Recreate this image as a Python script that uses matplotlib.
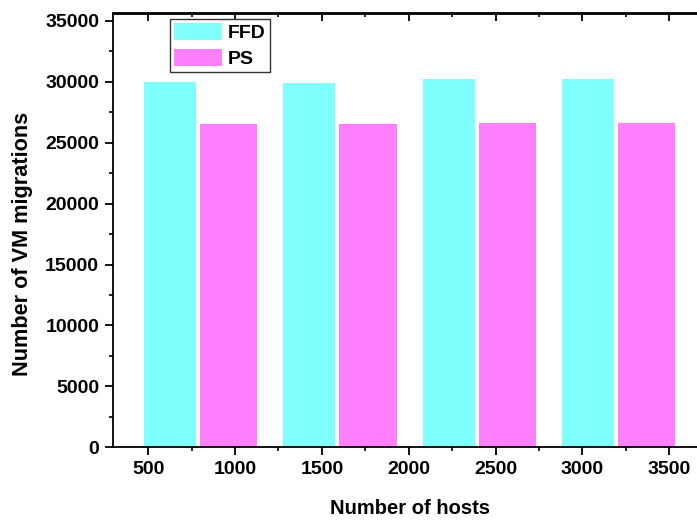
import matplotlib
matplotlib.use("Agg")
import matplotlib.pyplot as plt
from matplotlib.ticker import MultipleLocator
import numpy as np

# data
hosts = [500, 1000, 1500, 2000, 2500, 3000, 3500]   # x tick labels
ffd = [30000, 29900, 30200, 30200]
ps = [26500, 26500, 26600, 26600]
series_names = ["FFD", "PS"]
colors = ["#80FFFF", "#FF80FF"]

plt.rcParams["font.family"] = ["Liberation Sans", "DejaVu Sans"]
plt.rcParams["font.weight"] = "bold"

W, H = 697, 522
fig = plt.figure(figsize=(W / 100, H / 100), dpi=100)
# axes: left spine at x=113px, bottom at y=447px, top at y=13.5px, right spine just off the image
ax = fig.add_axes([112.7 / W, (H - 447.3) / H, (704.7 - 112.7) / W, (447.3 - 13.5) / H])

# bars sit in groups (Origin-like layout), FFD a bit narrower than PS
group = 475 + 803 * np.arange(len(ffd))
ax.bar(group, ffd, width=300, align="edge", color=colors[0], edgecolor="none", label=series_names[0])
ax.bar(group + 322, ps, width=330, align="edge", color=colors[1], edgecolor="none", label=series_names[1])

ax.set_xlim(295, 3705)
ax.set_ylim(0, 35600)
ax.set_xticks(hosts)
ax.set_yticks(np.arange(0, 35001, 5000))
ax.xaxis.set_minor_locator(MultipleLocator(250))
ax.yaxis.set_minor_locator(MultipleLocator(2500))

for s in ax.spines.values():
    s.set_linewidth(1.3)
ax.tick_params(axis="both", which="major", direction="out", length=5.5, width=1.3,
               labelsize=14, pad=4.2)
ax.tick_params(axis="both", which="minor", direction="out", length=3.2, width=1.2)
for lab in ax.get_xticklabels() + ax.get_yticklabels():
    lab.set_fontweight("bold")

# inward ticks on the top spine
top = ax.secondary_xaxis("top")
top.set_xticks(hosts)
top.xaxis.set_minor_locator(MultipleLocator(250))
top.tick_params(axis="x", which="major", direction="in", length=5.5, width=1.3, labeltop=False)
top.tick_params(axis="x", which="minor", direction="in", length=3.2, width=1.2)
top.spines["top"].set_linewidth(1.3)

fig.text(410 / W, 1 - 508.5 / H, "Number of hosts", ha="center", va="center",
         fontsize=14.5, fontweight="bold")
fig.text(23 / W, 1 - 243.5 / H, "Number of VM migrations", ha="center", va="center",
         rotation=90, fontsize=15.6, fontweight="bold")

leg = ax.legend(loc="upper left", bbox_to_anchor=(170 / W, 1 - 19 / H),
                bbox_transform=fig.transFigure, borderaxespad=0, fancybox=False,
                framealpha=1, edgecolor="#333333", prop={"weight": "bold", "size": 14},
                handlelength=2.45, handleheight=0.95, handletextpad=0.34,
                labelspacing=0.38, borderpad=0.2)
leg.get_frame().set_linewidth(1.0)

fig.savefig("out.png", dpi=100)
